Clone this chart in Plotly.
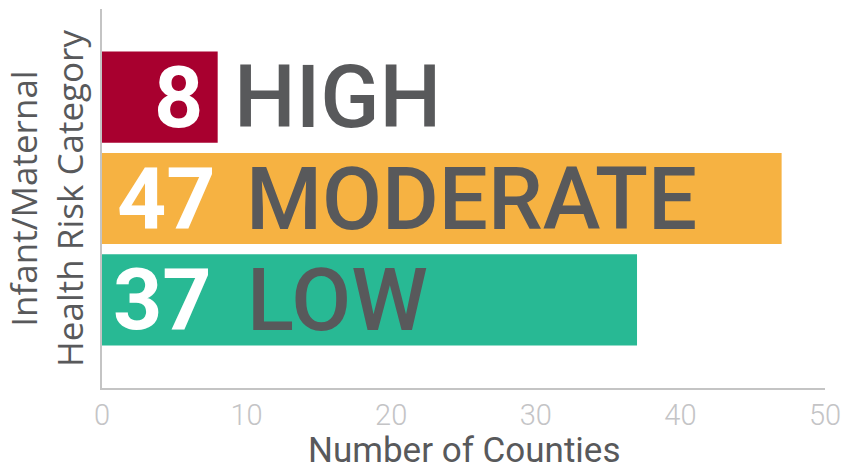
import plotly.graph_objects as go

categories = ["HIGH", "MODERATE", "LOW"]
counts = [8, 47, 37]
colors = ["#A8002F", "#F6B242", "#28B994"]
num_x = [7.1, 8.0, 7.75]
label_x = [9.0, 9.8, 9.9]
x_ticks = [0, 10, 20, 30, 40, 50]

GRAY = "#58595B"

fig = go.Figure()
fig.add_trace(go.Bar(
    x=counts, y=categories, orientation="h",
    marker=dict(color=colors, line=dict(width=0)),
    width=0.9, hoverinfo="skip",
))

for cat, n, nx, lx in zip(categories, counts, num_x, label_x):
    fig.add_annotation(x=nx, y=cat, text=f"<b>{n}</b>", xanchor="right", yanchor="middle",
                       showarrow=False, font=dict(family="Roboto", size=86, color="white", weight=900))
    fig.add_annotation(x=lx, y=cat, text=cat, xanchor="left", yanchor="middle",
                       showarrow=False, font=dict(family="Roboto", size=87, color=GRAY, weight=500))

# x axis title
fig.add_annotation(x=0.5, y=-0.166, xref="paper", yref="paper", text="Number of Counties",
                   xanchor="center", yanchor="middle", showarrow=False,
                   font=dict(family="Roboto", size=35, color=GRAY))

fig.update_layout(
    width=847, height=471,
    margin=dict(l=102, r=22, t=9, b=83),
    plot_bgcolor="white", paper_bgcolor="white",
    showlegend=False,
    bargap=0.1,
)
fig.update_xaxes(
    range=[0, 50], tickvals=x_ticks, showgrid=False, zeroline=False,
    showline=True, linecolor="#C4C4C4", linewidth=2, automargin=False,
    tickfont=dict(family="Roboto", size=29, color="#C4C4C6", weight=300),
    ticks="", ticklen=0,
)
fig.update_yaxes(
    categoryorder="array", categoryarray=categories,
    range=[2.87, -0.87], showgrid=False, zeroline=False,
    showline=True, linecolor="#C4C4C4", linewidth=2, automargin=False,
    showticklabels=False, ticks="",
    title=dict(text="Infant/Maternal<br>Health Risk Category", font=dict(family="Open Sans", size=35, color=GRAY), standoff=12),
)

fig.write_html("out.html", config={"displayModeBar": False},
               post_script="document.body.style.margin='0';")
